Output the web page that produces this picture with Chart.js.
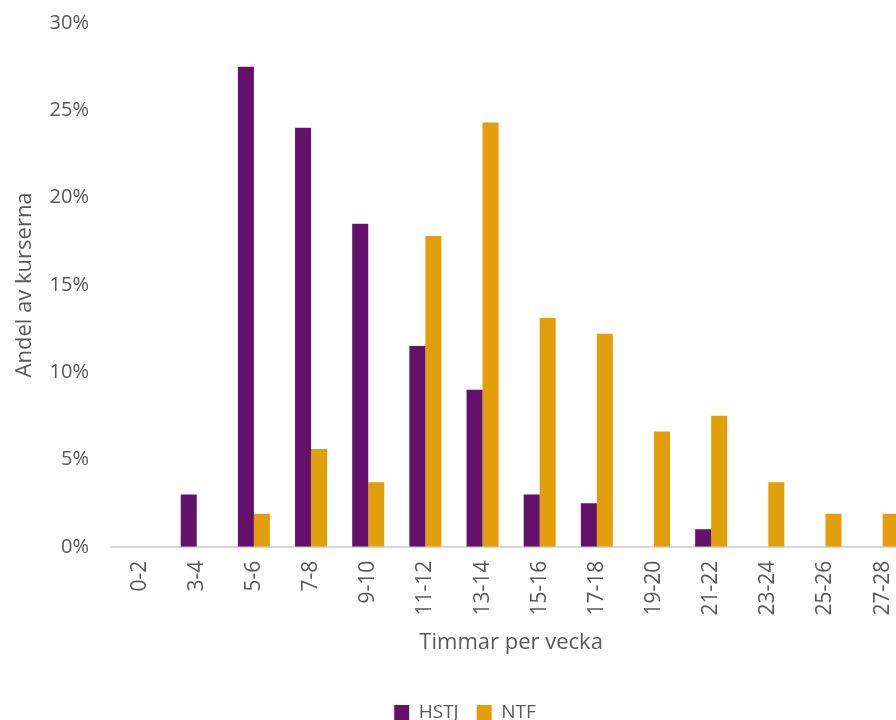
<!DOCTYPE html>
<html>
<head>
<meta charset="utf-8">
<script src="https://cdn.jsdelivr.net/npm/chart.js@4"></script>
<style>
  html, body { margin: 0; padding: 0; background: #fff; overflow: hidden; }
  #wrap { width: 922px; height: 732px; position: relative; }
</style>
</head>
<body>
<div id="wrap"><canvas id="chart"></canvas></div>
<script>
// Categories (hours per week) and share of courses in percent
const categories = ['0-2', '3-4', '5-6', '7-8', '9-10', '11-12', '13-14', '15-16', '17-18', '19-20', '21-22', '23-24', '25-26', '27-28'];
const hstj = [0, 3.0, 27.5, 24.0, 18.5, 11.5, 9.0, 3.0, 2.5, 0, 1.0, 0, 0, 0];
const ntf = [0, 0, 1.9, 5.6, 3.7, 17.8, 24.3, 13.1, 12.2, 6.6, 7.5, 3.7, 1.9, 1.9];
const yTicks = [0, 5, 10, 15, 20, 25, 30];

const textColor = '#595959';
const fontFamily = '"Open Sans", "Noto Sans", sans-serif';

const ctx = document.getElementById('chart');
new Chart(ctx, {
  type: 'bar',
  data: {
    labels: categories,
    datasets: [
      { label: 'HSTJ', data: hstj, backgroundColor: '#63116B', borderWidth: 0 },
      { label: 'NTF', data: ntf, backgroundColor: '#E39E0C', borderWidth: 0 }
    ]
  },
  options: {
    responsive: true,
    maintainAspectRatio: false,
    animation: false,
    layout: { padding: { top: 23, right: 4, left: 12, bottom: 0 } },
    datasets: {
      bar: { categoryPercentage: 0.56, barPercentage: 1.0 }
    },
    plugins: {
      legend: {
        position: 'bottom',
        labels: {
          color: textColor,
          font: { family: fontFamily, size: 19 },
          boxWidth: 15,
          boxHeight: 15,
          padding: 18
        }
      },
      tooltip: { enabled: false }
    },
    scales: {
      x: {
        grid: { display: false, drawTicks: false },
        border: { color: '#D9D9D9', width: 2 },
        ticks: {
          color: textColor,
          font: { family: fontFamily, size: 21 },
          minRotation: 90,
          maxRotation: 90,
          padding: 14
        },
        title: {
          display: true,
          text: 'Timmar per vecka',
          color: textColor,
          font: { family: fontFamily, size: 22 },
          padding: { top: 0, bottom: 29 }
        }
      },
      y: {
        min: 0,
        max: 30,
        afterBuildTicks: (axis) => { axis.ticks = yTicks.map(v => ({ value: v })); },
        afterFit: (axis) => {
          // fixed axis width; drop the extra top room added by tick padding
          axis.width = 99;
          axis.paddingTop = 0;
          axis.paddingBottom = 0;
        },
        grid: { display: false, drawTicks: false },
        border: { display: false },
        ticks: {
          color: textColor,
          font: { family: fontFamily, size: 20 },
          padding: 22,
          callback: (v) => v + '%'
        },
        title: {
          display: true,
          text: 'Andel av kurserna',
          color: textColor,
          font: { family: fontFamily, size: 22 },
          padding: { top: 0, bottom: 10 }
        }
      }
    }
  }
});
</script>
</body>
</html>
